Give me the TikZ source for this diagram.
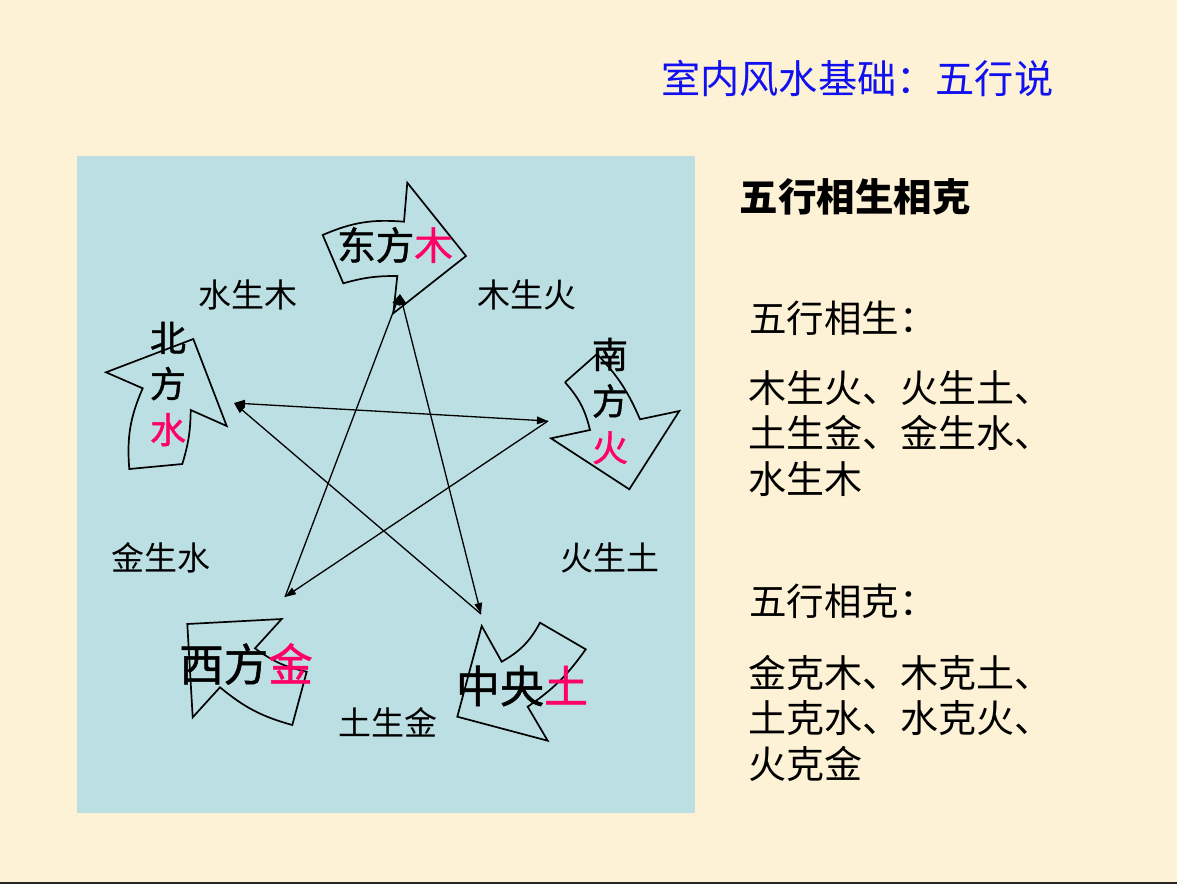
\documentclass[tikz,border=0pt]{standalone}
\usepackage{fontspec}
\newfontfamily\cjk{Noto Sans CJK SC}
\newfontfamily\cjkm{Noto Sans CJK SC}[FakeBold=1.2]
\usetikzlibrary{arrows.meta}
\definecolor{bgc}{HTML}{FDF1D6}
\definecolor{panelc}{HTML}{BBDFE2}
\definecolor{redc}{HTML}{FF0066}
\definecolor{bluec}{HTML}{1010F0}
\begin{document}
\begin{tikzpicture}[x=1pt,y=-1pt,
  txt/.style={inner sep=0pt,font=\cjk},
  shapeline/.style={draw=black,line width=1.7pt,line join=miter},
  starline/.style={draw=black,line width=1.3pt,-{Triangle[length=11pt,width=7.5pt]}},
  starboth/.style={draw=black,line width=1.3pt,{Triangle[length=11pt,width=7.5pt]}-{Triangle[length=11pt,width=7.5pt]}}]
\useasboundingbox (0,0) rectangle (1177,884);
\fill[bgc] (0,0) rectangle (1177,884);
\draw[line width=2.5pt,black!85] (0,883) -- (1177,883);
\fill[panelc] (77,156) rectangle (695,813);

% title
\node[txt,anchor=west,text=bluec,font=\cjk\fontsize{39.2}{40}\selectfont] (title) at (661,78) {室内风水基础：五行说};

% right column
\node[txt,font=\cjk\bfseries\fontsize{38.5}{40}\selectfont] (head) at (855,197) {五行相生相克};
\node[txt,anchor=west,font=\cjk\fontsize{37.5}{40}\selectfont] (sheng) at (749,318) {五行相生：};
\node[txt,anchor=north west,align=left,font=\cjk\fontsize{38}{45.5}\selectfont] (shengtxt) at (748,370) {木生火、火生土、\\土生金、金生水、\\水生木};
\node[txt,anchor=west,font=\cjk\fontsize{37.5}{40}\selectfont] (ke) at (749,601) {五行相克：};
\node[txt,anchor=north west,align=left,font=\cjk\fontsize{38}{45.5}\selectfont] (ketxt) at (748,655) {金克木、木克土、\\土克水、水克火、\\火克金};

% arrow shapes
% east (wood)
\draw[shapeline] (322.7,235) to[bend left=14] (404,221.7) -- (407.3,182.7) -- (466,256) -- (393.3,313.3) -- (397.3,276) to[bend right=8] (343.3,283.3) -- cycle;
% north (water)
\draw[shapeline] (106,372.3) -- (193.3,339) -- (226.7,426) -- (190.7,410) to[bend left=8] (182.3,464) -- (129.3,469) to[bend left=14] (142.7,388.3) -- cycle;
% south (fire)
\draw[shapeline] (565,382.3) -- (597,354) to[bend left=10] (640,419.3) -- (679.3,411) -- (629.3,489.3) -- (551,438.3) -- (590,430) to[bend right=14] (565,382.3);
% west (metal)
\draw[shapeline] (187.3,624) -- (281.7,619) -- (255,648.3) to[bend right=12] (306.7,671.7) -- (292.3,725) to[bend left=12] (220,687.3) -- (192.7,717.3) -- cycle;
% centre (earth)
\draw[shapeline] (457.3,716.7) -- (481.7,626) -- (501.7,661.7) to[bend right=16] (540,622.7) -- (585.7,649.3) to[bend left=10] (527.7,706.7) -- (547.7,740.7) -- cycle;

% star vertices
\coordinate (E) at (400,294);
\coordinate (F) at (548,421);
\coordinate (T) at (481,614);
\coordinate (J) at (285,597);
\coordinate (S) at (234,403);
\draw[starline] (J) -- (E);
\draw[starboth] (E) -- (T);
\draw[starline] (T) -- (S);
\draw[starboth] (S) -- (F);
\draw[starline] (F) -- (J);

% labels in arrows
\node[txt,font=\cjkm\fontsize{38.5}{40}\selectfont] (east) at (395,245) {东方\textcolor{redc}{木}};
\node[txt,align=center,font=\cjkm\fontsize{36}{46}\selectfont] (north) at (168,384) {北\\方\\\textcolor{redc}{水}};
\node[txt,align=center,font=\cjkm\fontsize{36}{46.5}\selectfont] (south) at (610,401) {南\\方\\\textcolor{redc}{火}};
\node[txt,font=\cjkm\fontsize{44.5}{46}\selectfont] (west) at (246,664) {西方\textcolor{redc}{金}};
\node[txt,font=\cjkm\fontsize{44}{46}\selectfont] (centre) at (522,686) {中央\textcolor{redc}{土}};

% generation labels
\node[txt,font=\cjk\fontsize{33}{34}\selectfont] (l1) at (248,295) {水生木};
\node[txt,font=\cjk\fontsize{33}{34}\selectfont] (l2) at (527,295) {木生火};
\node[txt,font=\cjk\fontsize{33}{34}\selectfont] (l3) at (161,558) {金生水};
\node[txt,font=\cjk\fontsize{33}{34}\selectfont] (l4) at (610,558) {火生土};
\node[txt,font=\cjk\fontsize{33}{34}\selectfont] (l5) at (388,722) {土生金};
\end{tikzpicture}
\end{document}
